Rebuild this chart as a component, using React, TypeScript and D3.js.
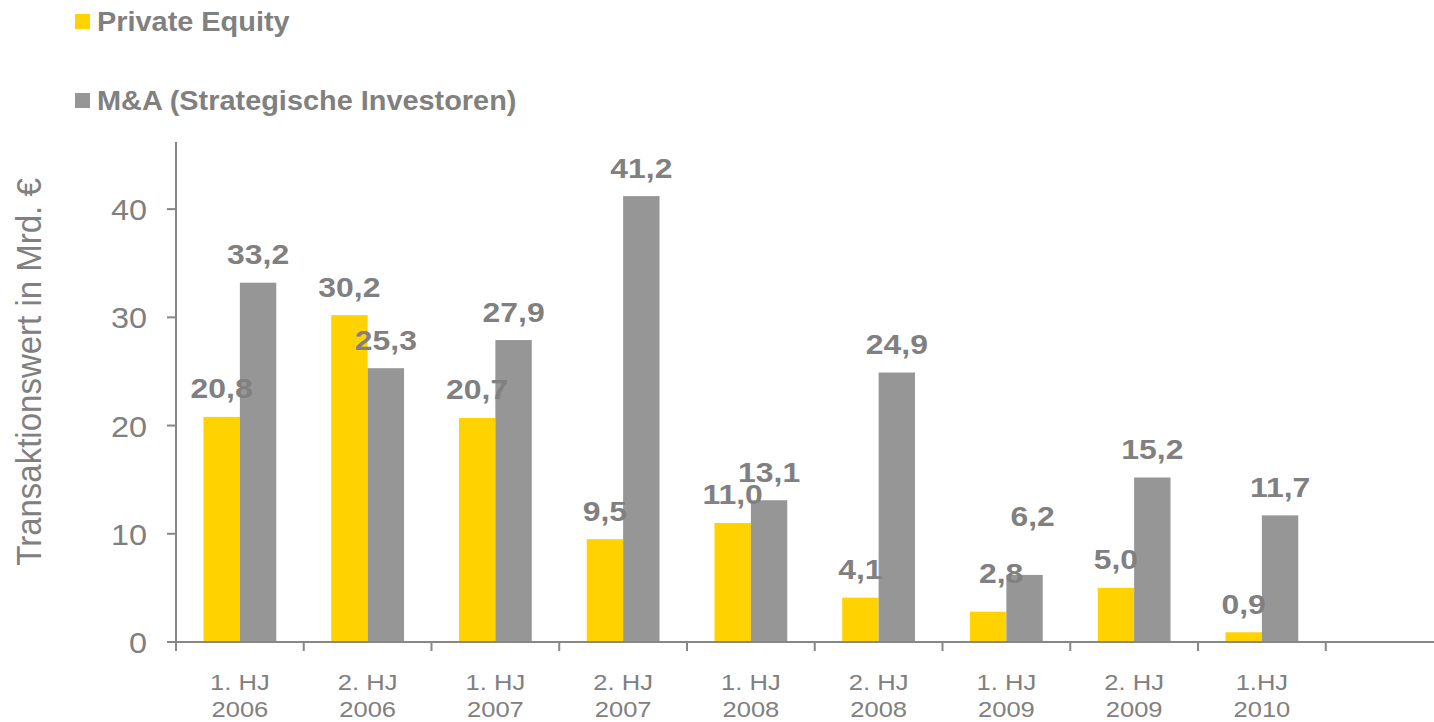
import React from "react";
import * as d3 from "d3";

const categories = ["1. HJ|2006", "2. HJ|2006", "1. HJ|2007", "2. HJ|2007", "1. HJ|2008", "2. HJ|2008", "1. HJ|2009", "2. HJ|2009", "1.HJ|2010", ""];
const privateEquity = [20.8, 30.2, 20.7, 9.5, 11.0, 4.1, 2.8, 5.0, 0.9];
const mna = [33.2, 25.3, 27.9, 41.2, 13.1, 24.9, 6.2, 15.2, 11.7];
const yTicks = [0, 10, 20, 30, 40];
const seriesNames = ["Private Equity", "M&A (Strategische Investoren)"];
const yTitle = "Transaktionswert in Mrd. €";

// manual label nudges (layout only), keyed by series/category index
const labelNudge: Record<string, [number, number]> = {
  "0-6": [13, -10],
  "1-6": [8, -30],
};

const W = 1434;
const H = 722;
const YELLOW = "#FFD200";
const GREY = "#969696";
const TEXT = "#808080";
const AXIS = "#878787";
const FONT = "'Liberation Sans', Arial, sans-serif";
const SX = 1.12;

export default function App() {
  const x = d3.scaleBand<string>().domain(categories.map((c, i) => String(i))).range([176, 176 + 10 * 127.75]).paddingInner(0).paddingOuter(0);
  const y = d3.scaleLinear().domain([0, 46.2]).range([642, 142]);
  const bw = 36.4;
  const fmt = (v: number) => v.toFixed(1).replace(".", ",");
  const series = [privateEquity, mna];
  const colors = [YELLOW, GREY];

  return (
    <svg width={W} height={H} style={{ position: "absolute", left: 0, top: 0, background: "#fff" }} fontFamily={FONT}>
      {/* legend */}
      {seriesNames.map((name, i) => (
        <g key={name}>
          <rect x={75} y={i === 0 ? 14 : 93} width={15} height={15} fill={colors[i]} />
          <text transform={`translate(97,${i === 0 ? 31 : 110}) scale(1.07,1)`} fontSize={27} fontWeight="bold" fill={TEXT}>
            {name}
          </text>
        </g>
      ))}

      {/* y title */}
      <text transform={`translate(41,372) scale(1.05,1) rotate(-90)`} textAnchor="middle" fontSize={33} fill={TEXT}>
        {yTitle}
      </text>

      {/* bars */}
      {series.map((vals, s) =>
        vals.map((v, i) => {
          const cx = x(String(i))! + x.bandwidth() / 2;
          const bx = s === 0 ? cx - bw : cx;
          return <rect key={`b${s}-${i}`} x={bx} y={y(v)} width={bw} height={y(0) - y(v)} fill={colors[s]} />;
        })
      )}

      {/* axes */}
      <line x1={176} x2={176} y1={142} y2={643} stroke={AXIS} strokeWidth={2} />
      <line x1={167} x2={W} y1={642} y2={642} stroke={AXIS} strokeWidth={2} />
      {yTicks.map((t) => (
        <g key={`yt${t}`}>
          <line x1={167} x2={176} y1={y(t)} y2={y(t)} stroke={AXIS} strokeWidth={2} />
          <text transform={`translate(147,${y(t) + 11}) scale(1.08,1)`} textAnchor="end" fontSize={30} fill={TEXT}>
            {t}
          </text>
        </g>
      ))}
      {categories.map((c, i) => {
        const x0 = x(String(i))!;
        const cx = x0 + x.bandwidth() / 2;
        const [l1, l2] = c.split("|");
        return (
          <g key={`xc${i}`}>
            <line x1={x0} x2={x0} y1={642} y2={651} stroke={AXIS} strokeWidth={2} />
            {c && (
              <>
                <text transform={`translate(${cx},690) scale(${SX + 0.04},1)`} textAnchor="middle" fontSize={22} fill={TEXT}>
                  {l1}
                </text>
                <text transform={`translate(${cx},717) scale(${SX + 0.04},1)`} textAnchor="middle" fontSize={22} fill={TEXT}>
                  {l2}
                </text>
              </>
            )}
          </g>
        );
      })}

      {/* data labels */}
      {series.map((vals, s) =>
        vals.map((v, i) => {
          const cx = x(String(i))! + x.bandwidth() / 2;
          const bc = s === 0 ? cx - bw / 2 : cx + bw / 2;
          const [dx, dy] = labelNudge[`${s}-${i}`] || [0, 0];
          return (
            <text
              key={`l${s}-${i}`}
              transform={`translate(${bc + dx},${y(v) - 18.5 + dy}) scale(${SX},1)`}
              textAnchor="middle"
              fontSize={28.5}
              fontWeight="bold"
              fill={TEXT}
            >
              {fmt(v)}
            </text>
          );
        })
      )}
    </svg>
  );
}
